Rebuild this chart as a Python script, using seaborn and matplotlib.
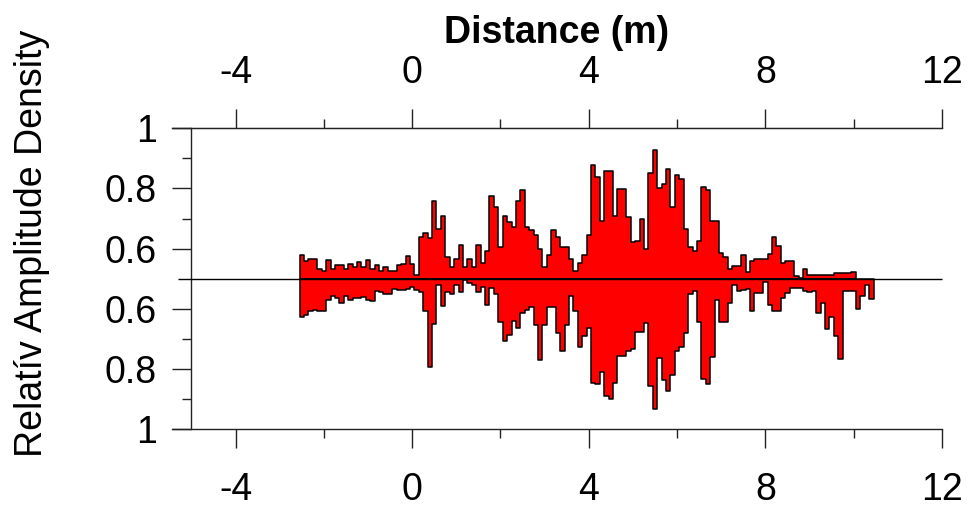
import numpy as np
import pandas as pd
import seaborn as sns
import matplotlib.pyplot as plt

# Binned amplitude density along the profile (0.1 m bins, first bin centred at -2.5 m)
BIN_WIDTH = 0.1
FIRST_CENTER = -2.5
BASELINE = 0.5

upper_amplitude = [
    0.580, 0.560, 0.565, 0.565, 0.533, 0.527, 0.563, 0.533, 0.546, 0.546,
    0.533, 0.550, 0.540, 0.557, 0.540, 0.563, 0.533, 0.546, 0.527, 0.540,
    0.527, 0.527, 0.546, 0.550, 0.576, 0.550, 0.512, 0.639, 0.652, 0.634,
    0.759, 0.667, 0.707, 0.574, 0.540, 0.566, 0.612, 0.540, 0.566, 0.540,
    0.612, 0.552, 0.593, 0.774, 0.738, 0.607, 0.707, 0.690, 0.671, 0.758,
    0.794, 0.671, 0.663, 0.644, 0.600, 0.540, 0.580, 0.663, 0.639, 0.607,
    0.607, 0.566, 0.527, 0.552, 0.580, 0.644, 0.877, 0.839, 0.691, 0.858,
    0.858, 0.708, 0.797, 0.800, 0.706, 0.621, 0.624, 0.700, 0.600, 0.852,
    0.927, 0.802, 0.816, 0.866, 0.739, 0.844, 0.832, 0.666, 0.606, 0.594,
    0.627, 0.806, 0.794, 0.693, 0.693, 0.586, 0.574, 0.533, 0.544, 0.544,
    0.580, 0.521, 0.560, 0.566, 0.566, 0.566, 0.582, 0.639, 0.608, 0.552,
    0.558, 0.558, 0.508, 0.502, 0.532, 0.513, 0.513, 0.513, 0.513, 0.513,
    0.513, 0.519, 0.519, 0.519, 0.519, 0.524,
]

lower_amplitude = [
    0.627, 0.620, 0.607, 0.603, 0.607, 0.607, 0.570, 0.557, 0.563, 0.580,
    0.557, 0.570, 0.563, 0.563, 0.560, 0.570, 0.573, 0.540, 0.543, 0.550,
    0.550, 0.533, 0.537, 0.537, 0.533, 0.527, 0.537, 0.543, 0.607, 0.793,
    0.650, 0.520, 0.592, 0.544, 0.550, 0.521, 0.543, 0.503, 0.514, 0.521,
    0.543, 0.526, 0.587, 0.531, 0.550, 0.643, 0.707, 0.688, 0.639, 0.662,
    0.612, 0.603, 0.594, 0.653, 0.769, 0.654, 0.594, 0.594, 0.681, 0.739,
    0.654, 0.556, 0.607, 0.726, 0.689, 0.664, 0.846, 0.851, 0.809, 0.889,
    0.898, 0.846, 0.757, 0.757, 0.739, 0.733, 0.676, 0.676, 0.648, 0.857,
    0.932, 0.764, 0.837, 0.872, 0.820, 0.739, 0.726, 0.681, 0.550, 0.539,
    0.642, 0.834, 0.851, 0.761, 0.570, 0.642, 0.642, 0.581, 0.520, 0.540,
    0.537, 0.533, 0.606, 0.548, 0.548, 0.509, 0.587, 0.607, 0.607, 0.564,
    0.548, 0.531, 0.531, 0.531, 0.540, 0.544, 0.540, 0.614, 0.581, 0.668,
    0.626, 0.689, 0.768, 0.540, 0.540, 0.540, 0.601, 0.557, 0.520, 0.568,
]

x_major_ticks = [-4, 0, 4, 8, 12]
x_minor_ticks = [-2, 2, 6, 10]
y_major_ticks = [0.5, 0.3, 0.1, -0.1, -0.3, -0.5]
y_major_labels = ["1", "0.8", "0.6", "0.6", "0.8", "1"]
y_minor_ticks = [0.4, 0.2, -0.2, -0.4]


def profile_frame(values, sign):
    """Bin centres and signed deviation from the baseline, plus bin range."""
    n = len(values)
    centers = FIRST_CENTER + BIN_WIDTH * np.arange(n)
    df = pd.DataFrame({
        "distance": centers,
        "deviation": sign * (np.asarray(values) - BASELINE),
    })
    lo = FIRST_CENTER - BIN_WIDTH / 2
    return df, n, (lo, lo + n * BIN_WIDTH)


sns.set_style("ticks")
plt.rcParams["font.family"] = ["Liberation Sans", "DejaVu Sans"]
plt.rcParams["axes.unicode_minus"] = False
for key in ("text.color", "axes.labelcolor", "xtick.labelcolor", "ytick.labelcolor"):
    plt.rcParams[key] = "black"
FS = 27
INK = "#222222"

fig = plt.figure(figsize=(9.67, 5.07), dpi=100)
W, H = 967, 507
ax = fig.add_axes([172 / W, 1 - 429.3 / H, 770 / W, 301 / H])

hist_style = dict(element="step", fill=True, color="#ff0000", alpha=1,
                  edgecolor="black", linewidth=1.1)

for values, sign in ((upper_amplitude, +1), (lower_amplitude, -1)):
    df, nbins, brange = profile_frame(values, sign)
    sns.histplot(data=df, x="distance", weights="deviation", bins=nbins,
                 binrange=brange, ax=ax, **hist_style)

# baseline through the middle of the mirrored profile
ax.hlines(0, -5.3, 12, color="black", linewidth=1.0, clip_on=False, zorder=5)

ax.set_xlim(-5.44, 12)
ax.set_ylim(-0.5, 0.5)

ax.spines["right"].set_visible(False)
ax.spines["left"].set_position(("data", -5))
for s in ax.spines.values():
    s.set_linewidth(1.0)
    s.set_color(INK)

ax.set_xticks(x_major_ticks)
ax.set_xticks(x_minor_ticks, minor=True)
ax.set_yticks(y_major_ticks, y_major_labels)
ax.set_yticks(y_minor_ticks, minor=True)

ax.tick_params(axis="x", which="both", top=False, labeltop=False,
               bottom=True, labelbottom=True, direction="out",
               labelsize=FS, pad=17, color=INK, labelcolor="black")
ax.tick_params(axis="x", which="major", length=13.5, width=1.0)
ax.tick_params(axis="x", which="minor", length=6.8, width=1.0)
ax.tick_params(axis="y", which="major", length=13.5, width=1.0,
               labelsize=FS, pad=11.5, direction="out", color=INK,
               labelcolor="black")
ax.tick_params(axis="y", which="minor", length=6.8, width=1.0,
               direction="out", color=INK)

# distance scale repeated along the top edge
top = ax.secondary_xaxis("top")
top.set_xticks(x_major_ticks)
top.set_xticks(x_minor_ticks, minor=True)
top.spines["top"].set_color(INK)
top.tick_params(axis="x", which="both", direction="out", labelsize=FS,
                pad=13, color=INK, labelcolor="black")
top.tick_params(axis="x", which="major", length=13.5, width=1.0)
top.tick_params(axis="x", which="minor", length=6.8, width=1.0)

ax.set_xlabel("")
ax.text(0.5, 1.2575, "Distance (m)", transform=ax.transAxes, ha="center",
        va="bottom", fontsize=FS, fontweight="bold", color="black")
ax.set_ylabel("Relatív Amplitude Density", fontsize=FS)
ax.yaxis.set_label_coords(-0.1587, 0.619)

fig.savefig("out.png", dpi=100)
